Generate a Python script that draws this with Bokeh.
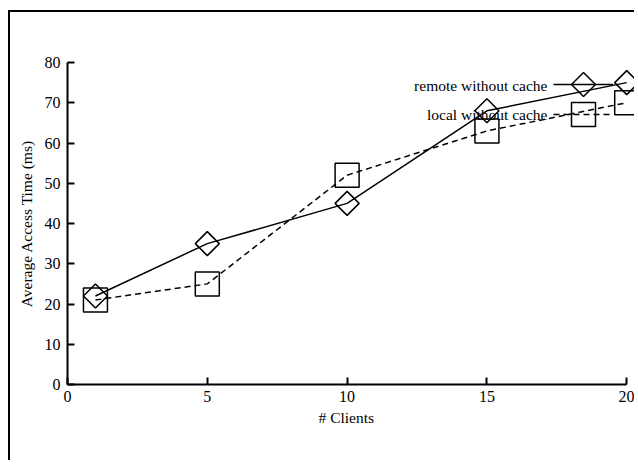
import numpy as np
from bokeh.plotting import figure
from bokeh.models import Range1d, Legend, LegendItem, Label, ColumnDataSource, PolyAnnotation, Title
from bokeh.embed import file_html
from bokeh.resources import INLINE

clients = [1, 5, 10, 15, 20]
remote_no_cache = [22, 35, 45, 68, 75]
local_no_cache = [21, 25, 52, 63, 70]
x_ticks = [0, 5, 10, 15, 20]
y_ticks = [0, 10, 20, 30, 40, 50, 60, 70, 80]
series_names = ["remote without cache", "local without cache"]
x_title = "# Clients"
y_title = "Average Access Time (ms)"

FONT = "Liberation Serif"

p = figure(width=626, height=450, output_backend="svg", toolbar_location=None,
           x_range=Range1d(0, 20.35), y_range=Range1d(0, 80),
           min_border_left=57, min_border_right=0, min_border_top=50, min_border_bottom=78,
           styles={"border-top": "2px solid black", "border-left": "2px solid black",
                   "margin-top": "10px", "margin-left": "8px"})
p.outline_line_color = None
p.xgrid.visible = False
p.ygrid.visible = False

for ax in (p.xaxis[0], p.yaxis[0]):
    ax.axis_line_width = 2
    ax.major_tick_line_width = 2
    ax.major_tick_in = 7
    ax.major_tick_out = 0
    ax.minor_tick_line_color = None
    ax.major_label_text_font = FONT
    ax.major_label_text_font_size = "16px"
    ax.axis_label_text_font = FONT
    ax.axis_label_text_font_size = "15.5px"
    ax.axis_label_text_font_style = "normal"
    ax.major_label_text_color = "black"
    ax.axis_label_text_color = "black"

p.xaxis.bounds = (0, 20)
p.xaxis.ticker = x_ticks
p.yaxis.ticker = y_ticks
p.yaxis.axis_label = y_title
p.xaxis.major_label_standoff = 6
p.yaxis.major_label_standoff = 7
p.yaxis.axis_label_standoff = 7

# x-axis title, placed under the middle of the drawn axis (0..20)
p.add_layout(Title(text=x_title, align="left", offset=251, standoff=4,
                   text_font=FONT, text_font_size="15.5px", text_font_style="normal",
                   text_color="black"), "below")

src = ColumnDataSource(dict(x=clients, r=remote_no_cache, l=local_no_cache))

r_line = p.line("x", "r", source=src, line_color="black", line_width=1.5)
r_mark = p.scatter("x", "r", source=src, marker="square", size=17, angle=np.pi / 4,
                   fill_color=None, line_color="black", line_width=1.5)
l_line = p.line("x", "l", source=src, line_color="black", line_width=1.5, line_dash="6 4")
l_mark = p.scatter("x", "l", source=src, marker="square", size=24,
                   fill_color=None, line_color="black", line_width=1.5)

# ---- gnuplot-style key (screen pixels, relative to the plot frame) ----
KEY_X = 486          # left end of the key sample line
KEY_W = 60           # sample line length
KEY_Y = [300, 271]   # vertical centre of each key row
TEXT_GAP = 6

def make_legend(renderers, yc, gh):
    lg = Legend(items=[LegendItem(label=" ", renderers=renderers)],
                location=(KEY_X, yc - gh // 2),
                glyph_width=KEY_W, glyph_height=gh, padding=0, margin=0, spacing=0,
                label_standoff=0, label_width=0, label_height=0,
                label_text_font_size="1px",
                border_line_color=None, background_fill_alpha=0,
                click_policy="none")
    p.add_layout(lg, "center")

make_legend([r_line], KEY_Y[0], 20)
make_legend([l_line, l_mark], KEY_Y[1] - 1, 60)

# diamond key marker (same shape as the rotated-square data markers)
cx = KEY_X + KEY_W / 2
half = 12
p.add_layout(PolyAnnotation(xs=[cx, cx + half, cx, cx - half],
                            ys=[KEY_Y[0] + half, KEY_Y[0], KEY_Y[0] - half, KEY_Y[0]],
                            xs_units="screen", ys_units="screen",
                            fill_color=None, fill_alpha=0, line_color="black",
                            line_alpha=1.0, line_width=1.5, editable=False))

for name, yc in zip(series_names, KEY_Y):
    p.add_layout(Label(x=KEY_X - TEXT_GAP, y=yc - 1, x_units="screen", y_units="screen",
                       text=name, text_font=FONT, text_font_size="15.5px",
                       text_align="right", text_baseline="middle", text_color="black"))

open("out.html", "w").write(file_html(p, INLINE))
